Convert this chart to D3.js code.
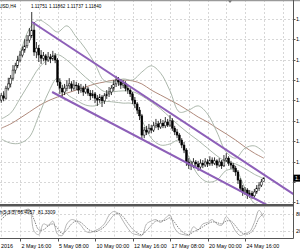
<!DOCTYPE html>
<html>
<head>
<meta charset="utf-8">
<script src="https://cdn.jsdelivr.net/npm/d3@7"></script>
<style>
  html, body { margin: 0; padding: 0; background: #fff; }
  svg { display: block; }
  text { font-family: "Liberation Sans", Arial, sans-serif; }
</style>
</head>
<body>
<svg id="chart" width="300" height="250"></svg>
<script>
// EURUSD H4 bars, first one drawn is bar -8 (bar 0 = 2 May 16:00)
const firstBar = -8;

const opens = [
  1.1387, 1.1398, 1.1392, 1.1418, 1.1429, 1.1444, 1.1465, 1.1476, 1.1491, 1.1504,
  1.1517, 1.1528, 1.1543, 1.1554, 1.1569, 1.1512, 1.1522, 1.1504, 1.1496, 1.1502,
  1.1491, 1.1499, 1.1494, 1.1502, 1.1491, 1.1434, 1.1418, 1.1408, 1.1418, 1.1424,
  1.1429, 1.1418, 1.1426, 1.1424, 1.1413, 1.1418, 1.1408, 1.1416, 1.1405, 1.1398,
  1.1403, 1.1392, 1.1387, 1.1395, 1.1385, 1.1398, 1.1403, 1.1408, 1.1418, 1.1429,
  1.1439, 1.1434, 1.1426, 1.1431, 1.1418, 1.1413, 1.1403, 1.1387, 1.1377, 1.1361,
  1.1346, 1.1296, 1.1309, 1.1304, 1.1314, 1.1309, 1.1320, 1.1325, 1.1317, 1.1327,
  1.1320, 1.1330, 1.1322, 1.1333, 1.1314, 1.1304, 1.1296, 1.1283, 1.1270, 1.1257,
  1.1226, 1.1218, 1.1216, 1.1226, 1.1221, 1.1213, 1.1223, 1.1218, 1.1226, 1.1221,
  1.1231, 1.1223, 1.1229, 1.1218, 1.1226, 1.1216, 1.1231, 1.1236, 1.1223, 1.1218,
  1.1210, 1.1200, 1.1179, 1.1158, 1.1148, 1.1153, 1.1140, 1.1145, 1.1138, 1.1148,
  1.1158, 1.1166, 1.11751
];
const highs = [
  1.1405, 1.1410, 1.1424, 1.1445, 1.1452, 1.1478, 1.1484, 1.1502, 1.1515, 1.1526,
  1.1545, 1.1556, 1.1574, 1.1616, 1.1590, 1.1538, 1.1530, 1.1517, 1.1512, 1.1507,
  1.1512, 1.1507, 1.1515, 1.1509, 1.1496, 1.1444, 1.1426, 1.1429, 1.1439, 1.1444,
  1.1436, 1.1439, 1.1434, 1.1431, 1.1429, 1.1424, 1.1429, 1.1421, 1.1413, 1.1413,
  1.1408, 1.1400, 1.1403, 1.1400, 1.1405, 1.1413, 1.1421, 1.1426, 1.1439, 1.1450,
  1.1447, 1.1442, 1.1439, 1.1436, 1.1426, 1.1418, 1.1408, 1.1395, 1.1382, 1.1369,
  1.1351, 1.1317, 1.1320, 1.1325, 1.1322, 1.1330, 1.1338, 1.1333, 1.1338, 1.1335,
  1.1343, 1.1338, 1.1348, 1.1340, 1.1320, 1.1312, 1.1301, 1.1288, 1.1278, 1.1262,
  1.1236, 1.1229, 1.1236, 1.1231, 1.1229, 1.1233, 1.1231, 1.1236, 1.1233, 1.1241,
  1.1238, 1.1238, 1.1233, 1.1236, 1.1231, 1.1244, 1.1249, 1.1241, 1.1229, 1.1223,
  1.1216, 1.1205, 1.1184, 1.1166, 1.1161, 1.1158, 1.1153, 1.1151, 1.1156, 1.1166,
  1.1174, 1.1182, 1.11862
];
const lows = [
  1.1380, 1.1384, 1.1388, 1.1412, 1.1420, 1.1438, 1.1456, 1.1470, 1.1485, 1.1498,
  1.1510, 1.1522, 1.1536, 1.1548, 1.1502, 1.1496, 1.1486, 1.1481, 1.1488, 1.1478,
  1.1486, 1.1483, 1.1489, 1.1483, 1.1424, 1.1403, 1.1395, 1.1400, 1.1410, 1.1416,
  1.1410, 1.1412, 1.1413, 1.1403, 1.1406, 1.1398, 1.1403, 1.1398, 1.1387, 1.1392,
  1.1379, 1.1372, 1.1380, 1.1369, 1.1377, 1.1390, 1.1395, 1.1400, 1.1410, 1.1421,
  1.1424, 1.1416, 1.1418, 1.1410, 1.1403, 1.1395, 1.1377, 1.1366, 1.1351, 1.1335,
  1.1283, 1.1288, 1.1296, 1.1299, 1.1301, 1.1304, 1.1314, 1.1309, 1.1312, 1.1314,
  1.1314, 1.1317, 1.1317, 1.1307, 1.1296, 1.1288, 1.1275, 1.1262, 1.1249, 1.1216,
  1.1208, 1.1205, 1.1210, 1.1213, 1.1203, 1.1208, 1.1210, 1.1213, 1.1213, 1.1216,
  1.1216, 1.1218, 1.1210, 1.1213, 1.1208, 1.1213, 1.1226, 1.1216, 1.1208, 1.1200,
  1.1190, 1.1169, 1.1148, 1.1138, 1.1140, 1.1130, 1.1133, 1.1130, 1.1133, 1.1143,
  1.1151, 1.1161, 1.11737
];
const closes = [
  1.1398, 1.1392, 1.1418, 1.1429, 1.1444, 1.1465, 1.1476, 1.1491, 1.1504, 1.1517,
  1.1528, 1.1543, 1.1554, 1.1569, 1.1512, 1.1522, 1.1504, 1.1496, 1.1502, 1.1491,
  1.1499, 1.1494, 1.1502, 1.1491, 1.1434, 1.1418, 1.1408, 1.1418, 1.1424, 1.1429,
  1.1418, 1.1426, 1.1424, 1.1413, 1.1418, 1.1408, 1.1416, 1.1405, 1.1398, 1.1403,
  1.1392, 1.1387, 1.1395, 1.1385, 1.1398, 1.1403, 1.1408, 1.1418, 1.1429, 1.1439,
  1.1434, 1.1426, 1.1431, 1.1418, 1.1413, 1.1403, 1.1387, 1.1377, 1.1361, 1.1346,
  1.1296, 1.1309, 1.1304, 1.1314, 1.1309, 1.1320, 1.1325, 1.1317, 1.1327, 1.1320,
  1.1330, 1.1322, 1.1333, 1.1314, 1.1304, 1.1296, 1.1283, 1.1270, 1.1257, 1.1226,
  1.1218, 1.1216, 1.1226, 1.1221, 1.1213, 1.1223, 1.1218, 1.1226, 1.1221, 1.1231,
  1.1223, 1.1229, 1.1218, 1.1226, 1.1216, 1.1231, 1.1236, 1.1223, 1.1218, 1.1210,
  1.1200, 1.1179, 1.1158, 1.1148, 1.1153, 1.1140, 1.1145, 1.1138, 1.1148, 1.1158,
  1.1166, 1.1174, 1.11840
];

// indicator lines, read every 4 bars from bar -8
const bandStep = 4;
const upperBand = [1.1390, 1.1431, 1.1507, 1.1572, 1.1595, 1.1582, 1.1564, 1.1580, 1.1551, 1.1520,
  1.1481, 1.1437, 1.1434, 1.1442, 1.1439, 1.1460, 1.1476, 1.1457, 1.1411, 1.1356,
  1.1361, 1.1372, 1.1351, 1.1304, 1.1252, 1.1236, 1.1262, 1.1268, 1.1252];
const midBand = [1.1338, 1.1353, 1.1391, 1.1431, 1.1470, 1.1493, 1.1505, 1.1491, 1.1469, 1.1446,
  1.1427, 1.1409, 1.1409, 1.1411, 1.1409, 1.1398, 1.1382, 1.1364, 1.1342, 1.1320,
  1.1300, 1.1282, 1.1262, 1.1242, 1.1227, 1.1221, 1.1209, 1.1194, 1.1183];
const lowerBand = [1.1286, 1.1275, 1.1275, 1.1291, 1.1346, 1.1405, 1.1444, 1.1403, 1.1387, 1.1374,
  1.1372, 1.1383, 1.1382, 1.1379, 1.1377, 1.1335, 1.1288, 1.1270, 1.1273, 1.1283,
  1.1239, 1.1192, 1.1174, 1.1179, 1.1204, 1.1205, 1.1158, 1.1119, 1.1113];
const slowMA = [1.1314, 1.1325, 1.1340, 1.1356, 1.1372, 1.1385, 1.1395, 1.1405, 1.1413, 1.1421,
  1.1429, 1.1434, 1.1439, 1.1439, 1.1437, 1.1429, 1.1413, 1.1400, 1.1387, 1.1374,
  1.1359, 1.1343, 1.1330, 1.1314, 1.1299, 1.1283, 1.1265, 1.1249, 1.1236];

// stochastic (5,3,3), read every 2 bars from bar -8
const stochStep = 2;
const stochMain = [70, 85, 90, 92, 88, 93, 95, 20, 8, 45,
  40, 55, 10, 5, 45, 60, 55, 40, 20, 15,
  22, 30, 45, 75, 88, 80, 55, 30, 12, 8,
  5, 45, 55, 60, 50, 65, 75, 30, 12, 8,
  6, 35, 25, 45, 50, 60, 45, 40, 70, 50,
  20, 5, 12, 18, 50, 92, 66.4957];
const stochSignal = [60, 75, 85, 90, 90, 90, 93, 60, 25, 25,
  38, 45, 30, 12, 25, 45, 55, 50, 35, 22,
  18, 24, 35, 55, 75, 82, 70, 48, 28, 14,
  8, 22, 40, 55, 55, 58, 66, 50, 28, 14,
  8, 18, 25, 35, 45, 52, 50, 45, 55, 55,
  38, 18, 10, 12, 30, 65, 81.3309];

// trend channel (bar, price) anchors
const channelUpper = [[5.1, 1.1590], [117, 1.1141]];
const channelLower = [[13.7, 1.1408], [117, 1.1077]];

// axes
const priceTicks = [1.1598, 1.1545, 1.1492, 1.1439, 1.1386, 1.1333, 1.1280, 1.1227, 1.1174, 1.1121];
const timeTickBars = [-16, 0, 16, 32, 48, 64, 80, 96];
const timeTickLabels = ["28 Apr 2016", "2 May 16:00", "5 May 08:00", "10 May 00:00",
  "12 May 16:00", "17 May 08:00", "20 May 00:00", "24 May 16:00"];
const stochLevels = [80, 20];
const headerSymbol = "EURUSD,H4";
const headerValues = ["1.11751", "1.11862", "1.11737", "1.11840"];
const stochName = "Stoch(5,3,3)";
const stochValues = ["66.4957", "81.3309"];

const svg = d3.select('#chart');
const axisX = 293.5;
const mainBottom = 204;
const subTop = 206.5, subBottom = 238.5;

const x = d3.scaleLinear().domain([0, 16]).range([20, 57.5]);
const y = d3.scaleLinear().domain([1.16472, 1.11272]).range([0, 200]);
const ys = d3.scaleLinear().domain([0, 100]).range([237, 208]);

svg.append('rect').attr('width', 300).attr('height', 250).attr('fill', '#fff');

const defs = svg.append('defs');
defs.append('clipPath').attr('id', 'clipMain')
  .append('rect').attr('x', 0).attr('y', 0).attr('width', axisX).attr('height', mainBottom);
defs.append('clipPath').attr('id', 'clipSub')
  .append('rect').attr('x', 0).attr('y', subTop).attr('width', axisX).attr('height', subBottom - subTop);

const gridBars = d3.range(-8, 120, 8);
const gridColor = '#c6c6c6';

// 网格 main
const gMain = svg.append('g').attr('clip-path', 'url(#clipMain)');
gMain.selectAll('.hgrid').data(priceTicks).join('line')
  .attr('x1', 0).attr('x2', axisX)
  .attr('y1', d => Math.round(y(d)) + 0.5).attr('y2', d => Math.round(y(d)) + 0.5)
  .attr('stroke', gridColor).attr('stroke-width', 0.7).attr('stroke-dasharray', '2,2');
gMain.selectAll('.vgrid').data(gridBars).join('line')
  .attr('x1', d => Math.round(x(d)) + 0.5).attr('x2', d => Math.round(x(d)) + 0.5)
  .attr('y1', 0).attr('y2', mainBottom)
  .attr('stroke', gridColor).attr('stroke-width', 0.7).attr('stroke-dasharray', '2,2');

// indicator lines
const bandLine = arr => d3.line()
  .x((d, k) => x(firstBar + k * bandStep))
  .y(d => y(d))
  .curve(d3.curveCatmullRom)(arr);

gMain.append('path').attr('d', bandLine(slowMA))
  .attr('fill', 'none').attr('stroke', '#b08a7c').attr('stroke-width', 1);
[upperBand, midBand, lowerBand].forEach(b => {
  gMain.append('path').attr('d', bandLine(b))
    .attr('fill', 'none').attr('stroke', '#a3b0a3').attr('stroke-width', 0.9);
});

// candles
const bars = opens.map((o, k) => ({ i: firstBar + k, o, h: highs[k], l: lows[k], c: closes[k] }));
const gBars = gMain.append('g');
gBars.selectAll('line').data(bars).join('line')
  .attr('x1', d => x(d.i)).attr('x2', d => x(d.i))
  .attr('y1', d => y(d.h)).attr('y2', d => y(d.l))
  .attr('stroke', '#000').attr('stroke-width', 0.8);
gBars.selectAll('rect').data(bars).join('rect')
  .attr('x', d => x(d.i) - 0.9).attr('width', 1.8)
  .attr('y', d => y(Math.max(d.o, d.c)))
  .attr('height', d => Math.max(0.6, Math.abs(y(d.o) - y(d.c))))
  .attr('fill', d => d.c >= d.o ? '#fff' : '#000')
  .attr('stroke', '#000').attr('stroke-width', 0.5);

// 通道
[channelUpper, channelLower].forEach(ch => {
  gMain.append('line')
    .attr('x1', x(ch[0][0])).attr('y1', y(ch[0][1]))
    .attr('x2', x(ch[1][0])).attr('y2', y(ch[1][1]))
    .attr('stroke', '#8d5fb8').attr('stroke-width', 2);
});

// stochastic panel
const gSub = svg.append('g').attr('clip-path', 'url(#clipSub)');
gSub.selectAll('.vgrid').data(gridBars).join('line')
  .attr('x1', d => Math.round(x(d)) + 0.5).attr('x2', d => Math.round(x(d)) + 0.5)
  .attr('y1', subTop).attr('y2', subBottom)
  .attr('stroke', gridColor).attr('stroke-width', 0.7).attr('stroke-dasharray', '2,2');
gSub.selectAll('.lvl').data(stochLevels).join('line')
  .attr('x1', 0).attr('x2', axisX)
  .attr('y1', d => Math.round(ys(d)) + 0.5).attr('y2', d => Math.round(ys(d)) + 0.5)
  .attr('stroke', gridColor).attr('stroke-width', 0.7).attr('stroke-dasharray', '2,2');

const stochLine = arr => d3.line()
  .x((d, k) => x(firstBar + k * stochStep))
  .y(d => ys(d))
  .curve(d3.curveCatmullRom)(arr);
gSub.append('path').attr('d', stochLine(stochMain))
  .attr('fill', 'none').attr('stroke', '#b4b4b4').attr('stroke-width', 1);
gSub.append('path').attr('d', stochLine(stochSignal))
  .attr('fill', 'none').attr('stroke', '#666').attr('stroke-width', 0.8)
  .attr('stroke-dasharray', '1.5,1');

// frame
svg.append('line').attr('x1', 0).attr('x2', 300).attr('y1', 0.5).attr('y2', 0.5)
  .attr('stroke', '#9a9a9a').attr('stroke-width', 1.5);
svg.append('rect').attr('x', 0).attr('y', mainBottom).attr('width', axisX).attr('height', 2.5)
  .attr('fill', '#555');
svg.append('line').attr('x1', 0).attr('x2', axisX).attr('y1', subBottom).attr('y2', subBottom)
  .attr('stroke', '#555').attr('stroke-width', 1);
svg.append('line').attr('x1', axisX).attr('x2', axisX).attr('y1', 0).attr('y2', subBottom)
  .attr('stroke', '#555').attr('stroke-width', 1);

// chart shift mark
svg.append('path').attr('d', 'M228,0.5 L232,0.5 L230,3 Z').attr('fill', '#777');

// right price scale (label under the bid box is hidden, as in the terminal)
const lastClose = closes[closes.length - 1];
svg.selectAll('.ptick').data(priceTicks).join('line')
  .attr('x1', axisX).attr('x2', axisX + 2)
  .attr('y1', d => Math.round(y(d)) + 0.5).attr('y2', d => Math.round(y(d)) + 0.5)
  .attr('stroke', '#555');
svg.selectAll('.plabel').data(priceTicks.filter(p => Math.abs(y(p) - y(lastClose)) > 7)).join('text')
  .attr('x', 296).attr('y', d => y(d) + 2)
  .attr('font-size', 5.4).attr('fill', '#000')
  .text(d => d.toFixed(5));

svg.append('rect').attr('x', axisX).attr('y', y(lastClose) - 3.5)
  .attr('width', 7).attr('height', 7).attr('fill', '#000');
svg.append('text').attr('x', 295).attr('y', y(lastClose) + 2)
  .attr('font-size', 5.4).attr('fill', '#fff').text(lastClose.toFixed(5));

svg.selectAll('.slabel').data(stochLevels).join('text')
  .attr('x', 296).attr('y', d => ys(d) + 2)
  .attr('font-size', 5.4).attr('fill', '#000')
  .text(d => d);

// time axis
svg.selectAll('.ttick').data(timeTickBars).join('line')
  .attr('x1', d => Math.round(x(d)) + 0.5).attr('x2', d => Math.round(x(d)) + 0.5)
  .attr('y1', subBottom).attr('y2', subBottom + 3)
  .attr('stroke', '#555');
svg.selectAll('.tlabel').data(timeTickBars).join('text')
  .attr('x', d => x(d) + 1.5).attr('y', 248)
  .attr('font-size', 5.4).attr('fill', '#000')
  .text((d, k) => timeTickLabels[k]);

// headers
svg.append('text').attr('x', 16).attr('y', 7.5).attr('text-anchor', 'end')
  .attr('font-size', 4.6).attr('fill', '#000').text(headerSymbol);
svg.selectAll('.hval').data(headerValues).join('text')
  .attr('x', (d, k) => 31 + k * 18).attr('y', 7.5)
  .attr('font-size', 4.6).attr('fill', '#000').text(d => d);

svg.append('text').attr('x', 16).attr('y', 214).attr('text-anchor', 'end')
  .attr('font-size', 4.8).attr('fill', '#000').text(stochName);
svg.selectAll('.sval').data(stochValues).join('text')
  .attr('x', (d, k) => 17.5 + k * 20.5).attr('y', 214)
  .attr('font-size', 4.8).attr('fill', '#000').text(d => d);
</script>
</body>
</html>
